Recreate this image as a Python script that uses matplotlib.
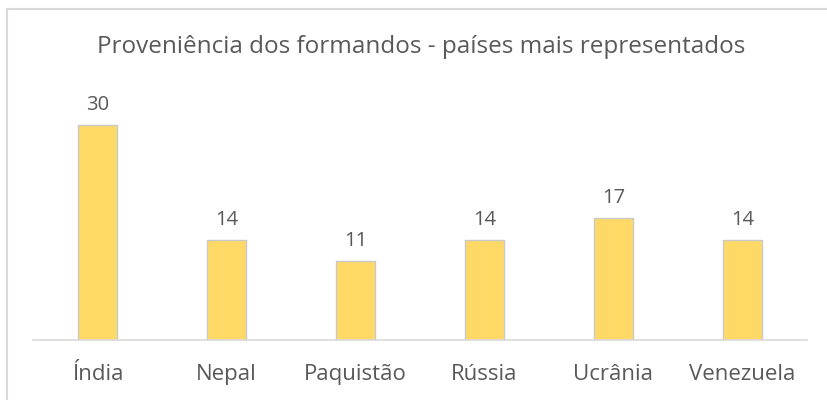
import matplotlib
matplotlib.use("Agg")
import matplotlib.pyplot as plt
from matplotlib.patches import Rectangle

categories = ["Índia", "Nepal", "Paquistão", "Rússia", "Ucrânia", "Venezuela"]
values = [30, 14, 11, 14, 17, 14]
title = "Proveniência dos formandos - países mais representados"

W, H = 828, 400
fig = plt.figure(figsize=(W/100, H/100), dpi=100)
plt.rcParams['font.family'] = ['Open Sans', 'DejaVu Sans']

# outer border (chart area frame)
fig.patches.append(Rectangle((7/W, -0.05), 1.0, 1 - 9/H + 0.05, transform=fig.transFigure,
                             fill=False, edgecolor='#d9d9d9', linewidth=1.5))

x0, x1 = 33, 807
yb, yt = 340, 89
ax = fig.add_axes([x0/W, 1 - yb/H, (x1-x0)/W, (yb-yt)/H])
bars = ax.bar(range(len(categories)), values, width=0.31, color='#FFD966',
              edgecolor='#c9c9c9', linewidth=1.0, zorder=2)
ax.set_xlim(-0.5, len(categories) - 0.5)
ax.set_ylim(0, 35)
for s in ['top', 'right', 'left']:
    ax.spines[s].set_visible(False)
ax.spines['bottom'].set_color('#d9d9d9')
ax.spines['bottom'].set_linewidth(1.2)
ax.set_yticks([])
ax.set_xticks(range(len(categories)))
ax.set_xticklabels(categories, fontsize=16, color='#595959')
ax.tick_params(axis='x', length=0, pad=17)
for i, v in enumerate(values):
    ax.annotate(str(v), (i, v), xytext=(0, 7), textcoords='offset points',
                ha='center', va='bottom', fontsize=14.5, color='#595959')

fig.text(0.5 + 7/W, 1 - 47/H, title, ha='center', va='center', fontsize=17.5, color='#595959')

fig.savefig("out.png", dpi=100, facecolor='white')
